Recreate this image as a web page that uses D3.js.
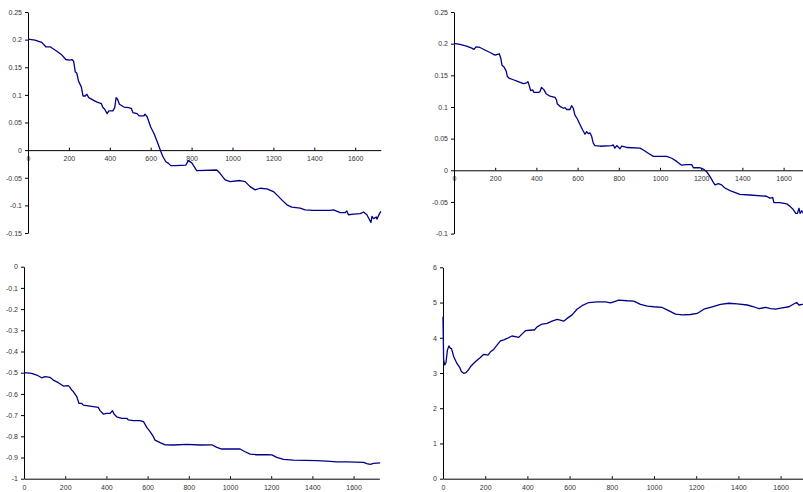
<!DOCTYPE html>
<html><head><meta charset="utf-8">
<script src="https://cdn.jsdelivr.net/npm/d3@7"></script>
<style>
body{margin:0;background:#fff;}
svg{display:block;}
.tick text{font-family:"Liberation Sans",Arial,sans-serif;font-size:7px;fill:#333;}
</style></head>
<body><svg id="c" width="803" height="492"></svg>
<script>
// Panel 1 (top-left)
const x1 = [0,34,67,87,108,141,166,185,202,215,223,231,239,247,261,269,280,288,297,321,338,359,365,375,387,395,415,424,431,438,447,469,493,506,513,534,543,567,572,583,600,616,632,649,660,674,687,698,723,772,784,801,825,923,939,964,988,1037,1062,1086,1111,1135,1168,1200,1217,1241,1266,1290,1331,1355,1396,1478,1494,1527,1551,1559,1567,1592,1625,1641,1657,1670,1677,1682,1690,1703,1706,1720,1726];
const y1 = [0.201,0.199,0.195,0.187,0.187,0.179,0.172,0.164,0.163,0.164,0.161,0.142,0.139,0.125,0.114,0.098,0.098,0.101,0.095,0.090,0.087,0.084,0.078,0.074,0.066,0.071,0.071,0.077,0.095,0.092,0.083,0.078,0.077,0.075,0.068,0.066,0.062,0.062,0.065,0.060,0.042,0.030,0.015,-0.002,-0.012,-0.021,-0.024,-0.028,-0.028,-0.027,-0.019,-0.023,-0.037,-0.036,-0.042,-0.054,-0.057,-0.055,-0.057,-0.066,-0.072,-0.069,-0.070,-0.075,-0.081,-0.090,-0.099,-0.103,-0.105,-0.108,-0.109,-0.109,-0.108,-0.113,-0.113,-0.110,-0.117,-0.116,-0.115,-0.112,-0.117,-0.126,-0.131,-0.120,-0.124,-0.121,-0.125,-0.114,-0.111];
const yTicks1 = [-0.15,-0.1,-0.05,0,0.05,0.1,0.15,0.2,0.25];

// Panel 2 (top-right)
const x2 = [0,29,61,86,97,107,126,150,175,199,220,227,233,243,253,259,269,288,312,337,353,359,366,372,382,388,409,417,425,437,447,466,490,498,501,514,531,539,547,563,571,579,587,599,612,624,636,644,652,660,668,676,684,709,765,773,781,790,806,814,830,838,903,919,943,968,1000,1032,1057,1081,1105,1129,1154,1162,1194,1210,1226,1243,1259,1267,1283,1299,1315,1340,1372,1388,1437,1517,1533,1547,1553,1582,1615,1631,1647,1659,1667,1675,1680,1688,1696,1710];
const y2 = [0.2005,0.199,0.196,0.193,0.191,0.195,0.194,0.190,0.186,0.182,0.184,0.177,0.166,0.163,0.157,0.148,0.145,0.143,0.140,0.137,0.138,0.140,0.133,0.126,0.127,0.123,0.123,0.124,0.131,0.127,0.121,0.117,0.115,0.111,0.105,0.101,0.098,0.099,0.096,0.096,0.102,0.098,0.087,0.081,0.072,0.064,0.057,0.061,0.058,0.059,0.054,0.043,0.039,0.038,0.039,0.040,0.035,0.039,0.034,0.038,0.037,0.036,0.035,0.032,0.027,0.022,0.022,0.022,0.019,0.014,0.008,0.009,0.009,0.004,0.004,0.002,-0.002,-0.010,-0.019,-0.023,-0.021,-0.023,-0.028,-0.032,-0.036,-0.038,-0.039,-0.041,-0.044,-0.043,-0.051,-0.051,-0.053,-0.057,-0.062,-0.068,-0.068,-0.060,-0.068,-0.064,-0.068,-0.066];
const yTicks2 = [-0.1,-0.05,0,0.05,0.1,0.15,0.2,0.25];

// Panel 3 (bottom-left)
const x3 = [0,37,62,86,102,126,142,167,191,215,223,232,240,256,267,280,288,312,337,361,369,385,401,418,429,437,450,474,499,507,531,563,580,596,612,628,636,661,685,725,790,855,912,936,960,1017,1049,1073,1098,1130,1179,1203,1227,1260,1308,1421,1470,1519,1567,1648,1664,1681,1697,1729];
const y3 = [-0.500,-0.503,-0.511,-0.524,-0.519,-0.522,-0.535,-0.547,-0.563,-0.561,-0.569,-0.582,-0.590,-0.613,-0.645,-0.645,-0.653,-0.656,-0.660,-0.664,-0.679,-0.695,-0.692,-0.692,-0.679,-0.695,-0.708,-0.715,-0.715,-0.723,-0.726,-0.726,-0.731,-0.758,-0.778,-0.802,-0.818,-0.830,-0.840,-0.841,-0.838,-0.841,-0.840,-0.852,-0.860,-0.860,-0.860,-0.873,-0.884,-0.887,-0.887,-0.888,-0.899,-0.909,-0.912,-0.915,-0.917,-0.921,-0.921,-0.923,-0.929,-0.932,-0.928,-0.925];
const yTicks3 = [-1,-0.9,-0.8,-0.7,-0.6,-0.5,-0.4,-0.3,-0.2,-0.1,0];

// Panel 4 (bottom-right)
const x4 = [0,3,8,14,21,28,35,40,51,66,79,87,98,109,122,133,153,177,193,213,225,240,256,272,288,304,327,343,359,375,391,422,433,446,470,493,517,541,556,572,588,612,635,659,691,730,770,794,809,833,873,904,936,968,999,1039,1062,1102,1134,1173,1205,1236,1276,1315,1355,1394,1442,1473,1497,1529,1553,1576,1600,1640,1660,1676,1687,1703,1720];
const y4 = [4.6,3.37,3.23,3.29,3.65,3.77,3.70,3.70,3.46,3.27,3.16,3.04,2.99,3.01,3.10,3.20,3.32,3.44,3.53,3.51,3.60,3.67,3.79,3.91,3.94,3.98,4.05,4.03,4.01,4.11,4.20,4.22,4.22,4.31,4.39,4.41,4.47,4.52,4.50,4.47,4.55,4.65,4.81,4.91,5.00,5.02,5.02,4.99,5.02,5.07,5.05,5.04,4.95,4.90,4.88,4.86,4.79,4.67,4.65,4.66,4.69,4.81,4.88,4.95,4.98,4.96,4.93,4.88,4.83,4.86,4.83,4.81,4.84,4.88,4.95,5.00,4.93,4.95,4.94];
const yTicks4 = [0,1,2,3,4,5,6];

const xTicks = [0,200,400,600,800,1000,1200,1400,1600];

const panels = [
  {xs:x1, ys:y1, yt:yTicks1, left:28, top:12, bottom:233, xEnd:1725, pxPer200:40.9, xAxisAt:0},
  {xs:x2, ys:y2, yt:yTicks2, left:454, top:12, bottom:233.6, xEnd:1725, pxPer200:41.2, xAxisAt:0},
  {xs:x3, ys:y3, yt:yTicks3, left:24, top:266.7, bottom:478.7, xEnd:1725, pxPer200:41.2, xAxisAt:-1},
  {xs:x4, ys:y4, yt:yTicks4, left:443, top:267.3, bottom:478.7, xEnd:1725, pxPer200:42.2, xAxisAt:0}
];

const svg = d3.select("#c");
const fmt = d => String(+d.toFixed(2));

panels.forEach(p => {
  const right = p.left + p.xEnd/200*p.pxPer200;
  const x = d3.scaleLinear().domain([0,p.xEnd]).range([p.left,right]);
  const yMin = d3.min(p.yt), yMax = d3.max(p.yt);
  const y = d3.scaleLinear().domain([yMin,yMax]).range([p.bottom,p.top]);
  const g = svg.append("g");

  const xa = g.append("g").attr("transform",`translate(0,${y(p.xAxisAt)})`)
    .call(d3.axisBottom(x).tickValues(xTicks).tickSizeInner(-2.5).tickSizeOuter(0).tickPadding(6).tickFormat(d3.format("d")));
  xa.select(".domain").attr("stroke","#000");
  xa.selectAll(".tick line").attr("stroke","#000");

  const ya = g.append("g").attr("transform",`translate(${p.left},0)`)
    .call(d3.axisLeft(y).tickValues(p.yt).tickSizeInner(3).tickSizeOuter(0).tickPadding(3).tickFormat(fmt));
  ya.select(".domain").attr("stroke","#000");
  ya.selectAll(".tick line").attr("stroke","#000");

  const data = p.xs.map((v,i)=>[v,p.ys[i]]);
  g.append("path").datum(data)
    .attr("fill","none").attr("stroke","#000088").attr("stroke-width",1.3)
    .attr("stroke-linejoin","round")
    .attr("d", d3.line().x(d=>x(d[0])).y(d=>y(d[1])));
});
</script></body></html>
